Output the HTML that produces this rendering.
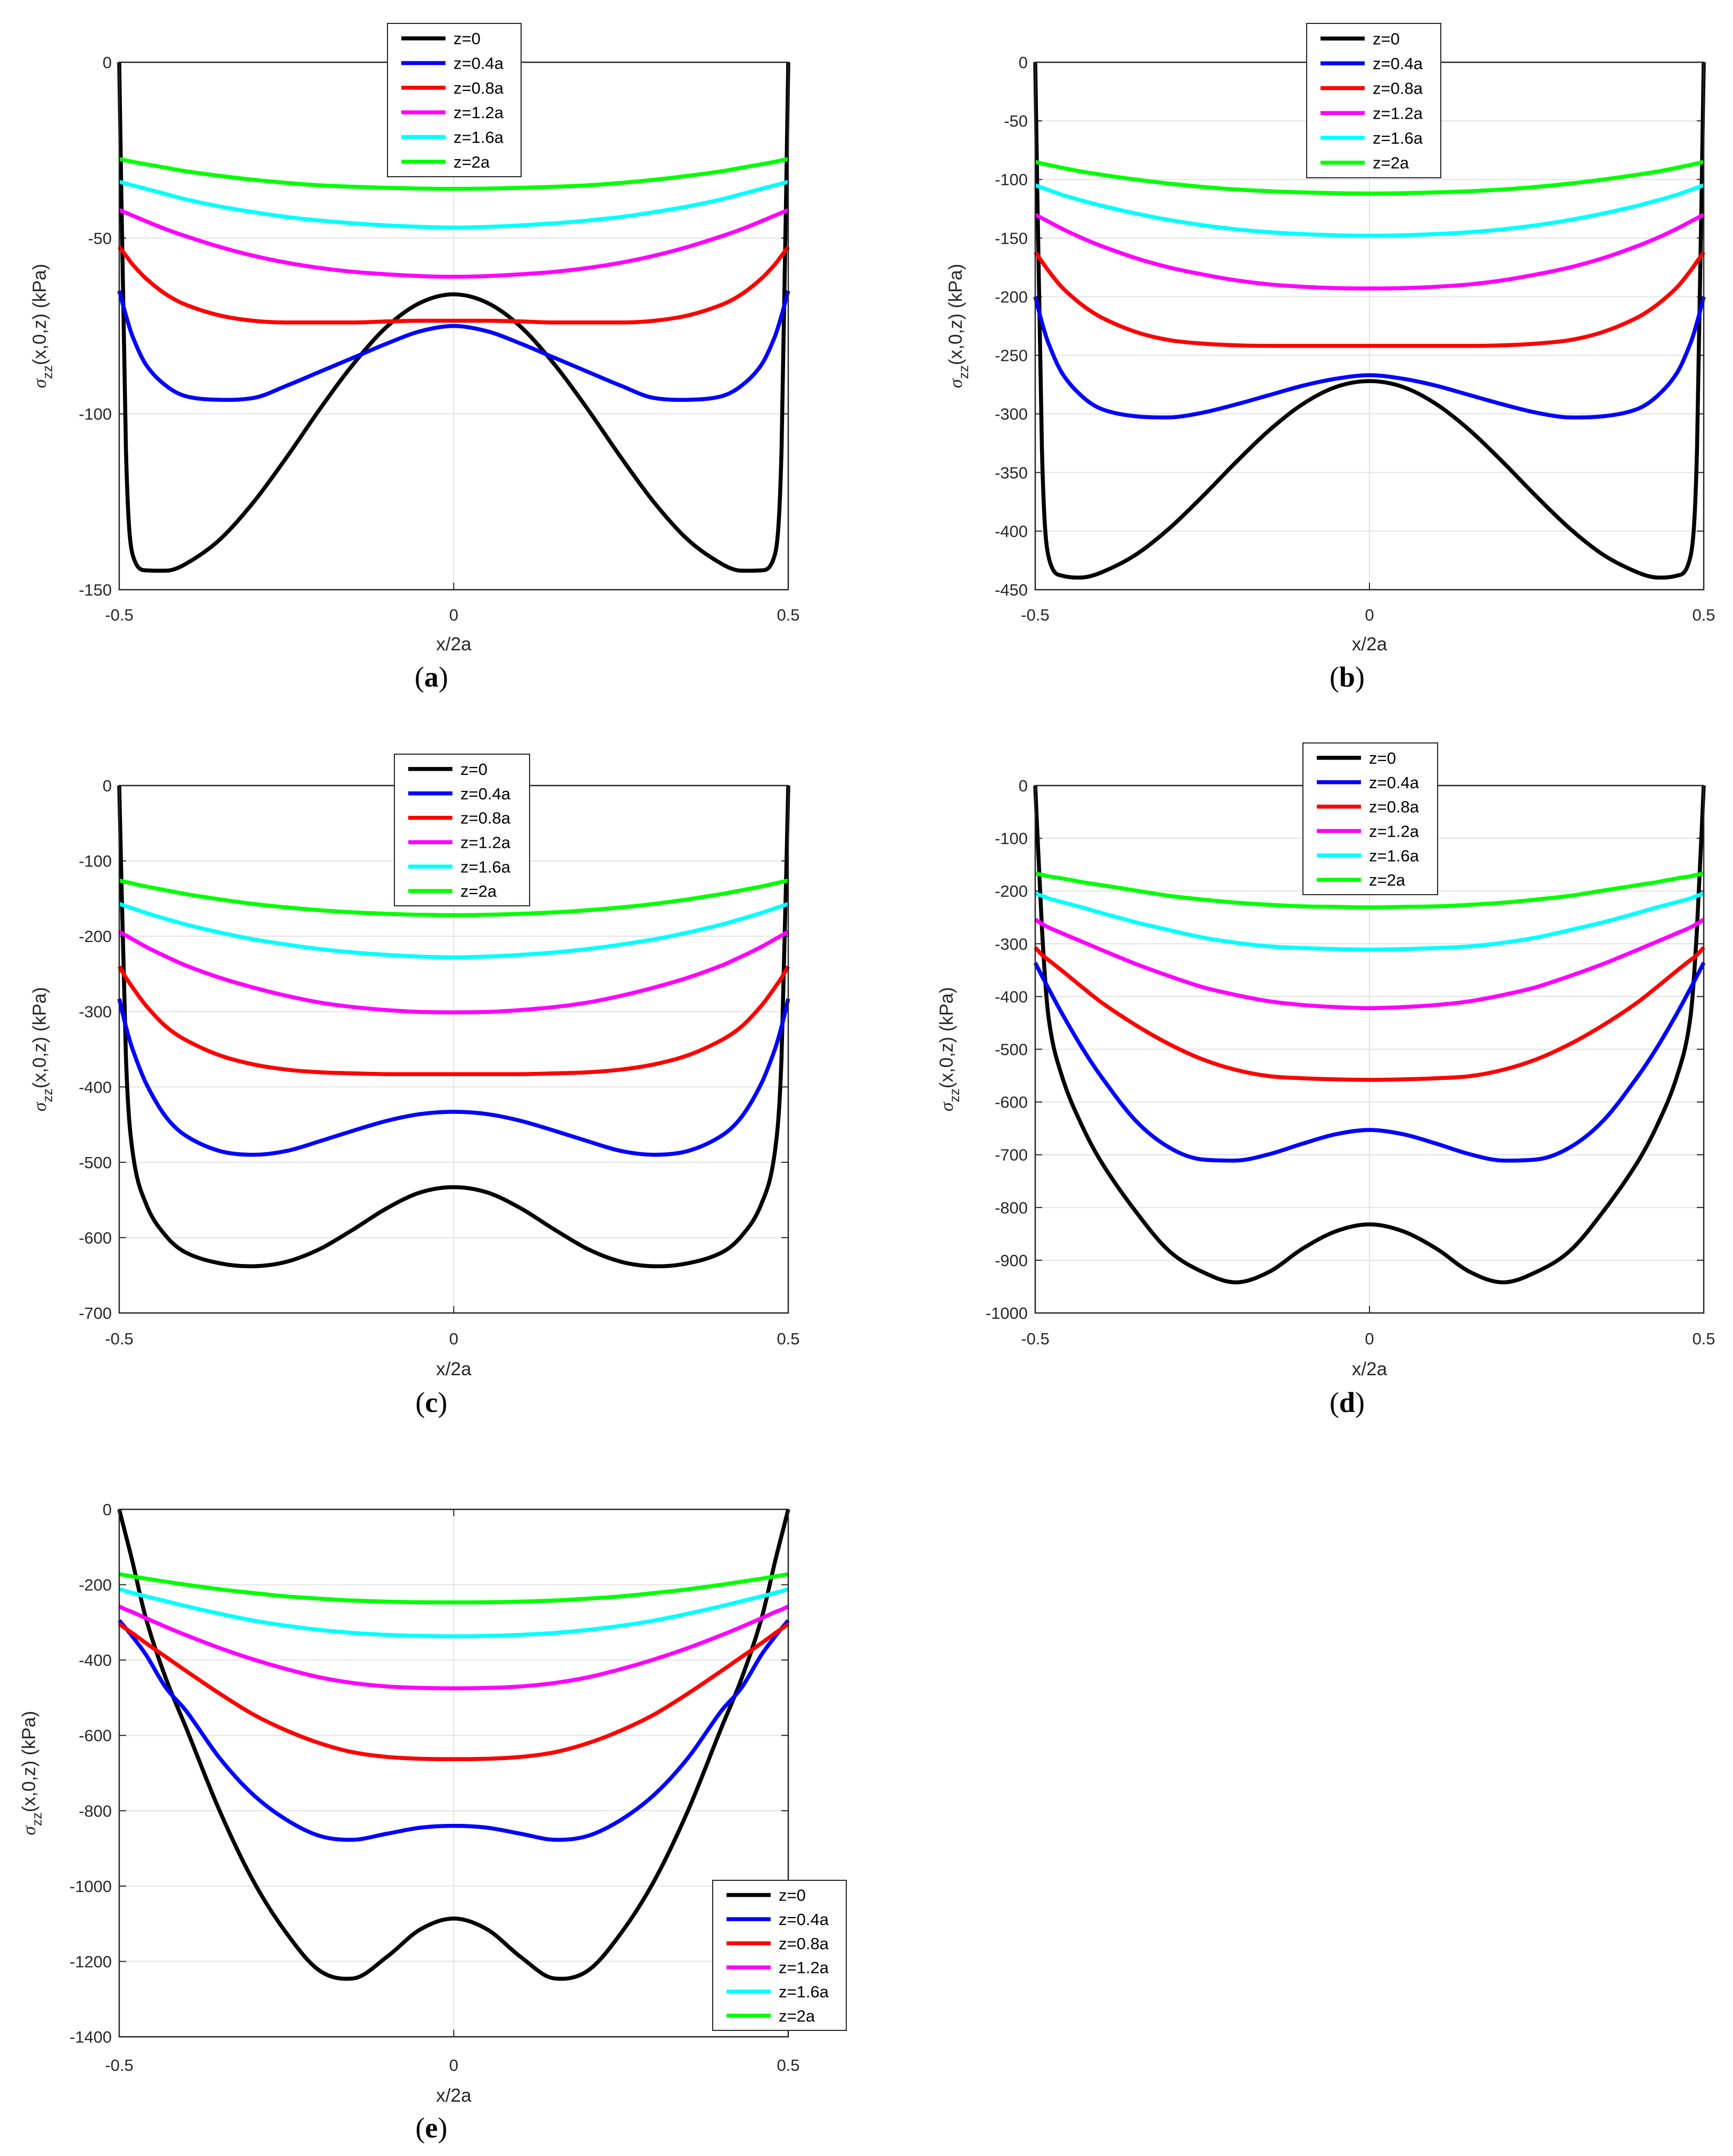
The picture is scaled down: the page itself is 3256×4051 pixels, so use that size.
<!DOCTYPE html>
<html><head><meta charset="utf-8"><style>
html,body{margin:0;padding:0;background:#fff;}
svg{display:block;font-family:"Liberation Sans",sans-serif;}
</style></head><body>
<svg id="fig" width="3256" height="4051" viewBox="0 0 3256 4051" xmlns="http://www.w3.org/2000/svg"></svg>
<script>
// ---- data ----
const xVals = [-0.5,-0.49,-0.48,-0.46,-0.43,-0.4,-0.35,-0.3,-0.25,-0.2,-0.15,-0.1,-0.05,0,0.05,0.1,0.15,0.2,0.25,0.3,0.35,0.4,0.43,0.46,0.48,0.49,0.5];
const seriesNames = ["z=0","z=0.4a","z=0.8a","z=1.2a","z=1.6a","z=2a"];
const seriesColors = ["#000000","#0000ff","#ff0000","#ff00ff","#00ffff","#00ff00"];
// panel (a)
const aZ0   = [0,-110,-140,-144.5,-144.6,-142.6,-135.8,-125.3,-112.4,-98.6,-85.8,-75.2,-68.4,-66,-68.4,-75.2,-85.8,-98.6,-112.4,-125.3,-135.8,-142.6,-144.6,-144.5,-140,-110,0];
const aZ04  = [-65,-72,-78,-86,-92,-95,-96,-95.5,-92,-88,-84,-80,-76.5,-75,-76.5,-80,-84,-88,-92,-95.5,-96,-95,-92,-86,-78,-72,-65];
const aZ08  = [-52.5,-55,-57.5,-61.5,-66,-69,-72,-73.5,-74,-74,-74,-73.7,-73.5,-73.5,-73.5,-73.7,-74,-74,-74,-73.5,-72,-69,-66,-61.5,-57.5,-55,-52.5];
const aZ12  = [-42,-42.8,-43.6,-45.2,-47.5,-49.5,-52.5,-55,-57,-58.5,-59.6,-60.3,-60.8,-61,-60.8,-60.3,-59.6,-58.5,-57,-55,-52.5,-49.5,-47.5,-45.2,-43.6,-42.8,-42];
const aZ16  = [-34,-34.5,-35,-36,-37.5,-39,-41,-42.6,-44,-45,-45.8,-46.4,-46.8,-47,-46.8,-46.4,-45.8,-45,-44,-42.6,-41,-39,-37.5,-36,-35,-34.5,-34];
const aZ20  = [-27.5,-27.9,-28.3,-29,-30,-31,-32.3,-33.4,-34.3,-35,-35.4,-35.7,-35.9,-36,-35.9,-35.7,-35.4,-35,-34.3,-33.4,-32.3,-31,-30,-29,-28.3,-27.9,-27.5];
// panel (b)
const bZ0   = [0,-330,-422,-438,-439.6,-435,-420.3,-398,-370.6,-341.4,-314,-291.7,-277,-272,-277,-291.7,-314,-341.4,-370.6,-398,-420.3,-435,-439.6,-438,-422,-330,0];
const bZ04  = [-200,-222,-240,-265,-285,-296,-302,-303,-299,-292,-284,-276,-270,-267,-270,-276,-284,-292,-299,-303,-302,-296,-285,-265,-240,-222,-200];
const bZ08  = [-162,-170,-178,-192,-207,-218,-230,-237,-240,-241.5,-242,-242,-242,-242,-242,-242,-242,-241.5,-240,-237,-230,-218,-207,-192,-178,-170,-162];
const bZ12  = [-130,-133,-136,-142,-150,-157,-167,-175,-181,-186,-189.5,-191.5,-192.7,-193,-192.7,-191.5,-189.5,-186,-181,-175,-167,-157,-150,-142,-136,-133,-130];
const bZ16  = [-105,-107,-109,-113,-118,-122.5,-129,-134.5,-139,-142.5,-145,-146.6,-147.6,-148,-147.6,-146.6,-145,-142.5,-139,-134.5,-129,-122.5,-118,-113,-109,-107,-105];
const bZ20  = [-85,-86.3,-87.6,-90,-93.3,-96,-100,-103.5,-106.3,-108.5,-110,-111,-111.7,-112,-111.7,-111,-110,-108.5,-106.3,-103.5,-100,-96,-93.3,-90,-87.6,-86.3,-85];
// panel (c)
const cZ0   = [0,-360,-486,-555,-598,-620,-634,-638,-632,-615,-589,-561,-540,-533,-540,-561,-589,-615,-632,-638,-634,-620,-598,-555,-486,-360,0];
const cZ04  = [-283,-320,-350,-395,-440,-465,-485,-490,-485,-472,-458,-445,-436,-433,-436,-445,-458,-472,-485,-490,-485,-465,-440,-395,-350,-320,-283];
const cZ08  = [-240,-255,-268,-292,-320,-338,-358,-370,-377,-380.5,-382,-383,-383,-383,-383,-383,-382,-380.5,-377,-370,-358,-338,-320,-292,-268,-255,-240];
const cZ12  = [-194,-199,-204,-214,-227,-239,-255,-268,-279,-288,-294,-298,-300.5,-301,-300.5,-298,-294,-288,-279,-268,-255,-239,-227,-214,-204,-199,-194];
const cZ16  = [-157,-160,-163,-169,-177,-184.5,-195,-204,-211,-217,-221.5,-224.7,-227,-228,-227,-224.7,-221.5,-217,-211,-204,-195,-184.5,-177,-169,-163,-160,-157];
const cZ20  = [-126,-128,-130,-134,-139,-144,-151,-157,-161.7,-165.5,-168.3,-170.2,-171.5,-172,-171.5,-170.2,-168.3,-165.5,-161.7,-157,-151,-144,-139,-134,-130,-128,-126];
// panel (d)
const dZ0   = [0,-270,-440,-551,-645,-716,-807,-882,-922,-942,-922,-878,-845,-832,-845,-878,-922,-942,-922,-882,-807,-716,-645,-551,-440,-270,0];
const dZ04  = [-336,-361,-385,-432,-497,-554,-635,-686,-709,-711,-699,-679,-661,-653,-661,-679,-699,-711,-709,-686,-635,-554,-497,-432,-385,-361,-336];
const dZ08  = [-307,-321,-331,-351,-382,-412,-454,-490,-519,-539,-551,-555,-557,-558,-557,-555,-551,-539,-519,-490,-454,-412,-382,-351,-331,-321,-307];
const dZ12  = [-254,-262,-269,-280,-296,-312,-338,-361,-382,-397,-409,-416,-420,-422,-420,-416,-409,-397,-382,-361,-338,-312,-296,-280,-269,-262,-254];
const dZ16  = [-205,-209,-214,-221,-231,-242,-259,-274,-288,-298,-305,-308,-310,-311,-310,-308,-305,-298,-288,-274,-259,-242,-231,-221,-214,-209,-205];
const dZ20  = [-167,-169,-172,-176,-183,-189,-199,-209,-216,-222,-226,-229,-230,-231,-230,-229,-226,-222,-216,-209,-199,-189,-183,-176,-172,-169,-167];
// panel (e)
const eZ0   = [0,-70,-140,-290,-450,-580,-800,-985,-1125,-1225,-1245,-1188,-1115,-1086,-1115,-1188,-1245,-1225,-1125,-985,-800,-580,-450,-290,-140,-70,0];
const eZ04  = [-295,-316,-338,-386,-474,-535,-660,-757,-824,-867,-877,-861,-845,-840,-845,-861,-877,-867,-824,-757,-660,-535,-474,-386,-338,-316,-295];
const eZ08  = [-304,-317,-329,-355,-392,-429,-489,-544,-587,-621,-645,-657,-662,-663,-662,-657,-645,-621,-587,-544,-489,-429,-392,-355,-329,-317,-304];
const eZ12  = [-258,-266,-273,-289,-312,-334,-368,-398,-424,-446,-461,-470,-474,-475,-474,-470,-461,-446,-424,-398,-368,-334,-312,-289,-273,-266,-258];
const eZ16  = [-212,-217,-222,-231,-244,-257,-277,-295,-309,-320,-328,-333,-336,-337,-336,-333,-328,-320,-309,-295,-277,-257,-244,-231,-222,-217,-212];
const eZ20  = [-172,-175,-178,-184,-192,-200,-212,-222,-231,-237,-242,-245,-246.5,-247,-246.5,-245,-242,-237,-231,-222,-212,-200,-192,-184,-178,-175,-172];
const xTickLabels = ["-0.5","0","0.5"];
const xTicks = [-0.5,0,0.5];
const aYTicks = [0,-50,-100,-150];
const bYTicks = [0,-50,-100,-150,-200,-250,-300,-350,-400,-450];
const cYTicks = [0,-100,-200,-300,-400,-500,-600,-700];
const dYTicks = [0,-100,-200,-300,-400,-500,-600,-700,-800,-900,-1000];
const eYTicks = [0,-200,-400,-600,-800,-1000,-1200,-1400];

// ---- layout ----
const panels = [
 {id:"a", x0:224,x1:1481,y0:117,y1:1108, ymin:-150, ticks:aYTicks, series:[aZ0,aZ04,aZ08,aZ12,aZ16,aZ20], leg:[728,44,979,332], lx:86, tickY:1155, xlabY:1210, letY:1272},
 {id:"b", x0:1945,x1:3201,y0:117,y1:1108, ymin:-450, ticks:bYTicks, series:[bZ0,bZ04,bZ08,bZ12,bZ16,bZ20], leg:[2455,44,2707,334], lx:1807, tickY:1155, xlabY:1210, letY:1272},
 {id:"c", x0:224,x1:1481,y0:1476,y1:2467, ymin:-700, ticks:cYTicks, series:[cZ0,cZ04,cZ08,cZ12,cZ16,cZ20], leg:[741,1417,995,1702], lx:86, tickY:2515, xlabY:2572, letY:2635},
 {id:"d", x0:1945,x1:3201,y0:1476,y1:2467, ymin:-1000, ticks:dYTicks, series:[dZ0,dZ04,dZ08,dZ12,dZ16,dZ20], leg:[2448,1396,2701,1681], lx:1790, tickY:2515, xlabY:2572, letY:2635},
 {id:"e", x0:224,x1:1481,y0:2836,y1:3827, ymin:-1400, ticks:eYTicks, series:[eZ0,eZ04,eZ08,eZ12,eZ16,eZ20], leg:[1339,3533,1590,3815], lx:66, tickY:3880, xlabY:3937, letY:3998}
];
const NS="http://www.w3.org/2000/svg";
const svg=document.getElementById("fig");
function mk(tag,attrs,parent){const e=document.createElementNS(NS,tag);for(const k in attrs)e.setAttribute(k,attrs[k]);(parent||svg).appendChild(e);return e;}

function smoothPath(px,py){
  const n=px.length,d=[],m=new Array(n);
  for(let i=0;i<n-1;i++)d.push((py[i+1]-py[i])/(px[i+1]-px[i]));
  m[0]=d[0];m[n-1]=d[n-2];
  for(let i=1;i<n-1;i++){
    let c=(py[i+1]-py[i-1])/(px[i+1]-px[i-1]);
    if(d[i-1]*d[i]>0){const lim=3*Math.min(Math.abs(d[i-1]),Math.abs(d[i]));if(Math.abs(c)>lim)c=Math.sign(c)*lim;}
    else {const lim=0.5*Math.min(Math.abs(d[i-1]),Math.abs(d[i]));if(Math.abs(c)>lim)c=Math.sign(c)*lim;}
    m[i]=c;
  }
  let s="M"+px[0].toFixed(1)+","+py[0].toFixed(1);
  for(let i=0;i<n-1;i++){const h=(px[i+1]-px[i])/3;
    s+=" C"+(px[i]+h).toFixed(1)+","+(py[i]+m[i]*h).toFixed(1)+" "+(px[i+1]-h).toFixed(1)+","+(py[i+1]-m[i+1]*h).toFixed(1)+" "+px[i+1].toFixed(1)+","+py[i+1].toFixed(1);}
  return s;
}

panels.forEach(p=>{
  const g=mk("g",{});
  
  
  const sx=v=>p.x0+(v+0.5)*(p.x1-p.x0);
  const sy=v=>p.y0+(v/p.ymin)*(p.y1-p.y0);
  p.ticks.forEach(t=>{
    if(t===0||t===p.ymin)return;
    const l=mk("line",{x1:p.x0,x2:p.x1,y1:sy(t),y2:sy(t),stroke:"#e3e3e3","stroke-width":2},g);
    
    
  });
  const vg=mk("line",{x1:sx(0),x2:sx(0),y1:p.y0,y2:p.y1,stroke:"#e3e3e3","stroke-width":2},g);
  
  
  p.ticks.forEach(t=>{
    mk("line",{x1:p.x0,x2:p.x0+13,y1:sy(t),y2:sy(t),stroke:"#262626","stroke-width":2},g);
    mk("line",{x1:p.x1,x2:p.x1-13,y1:sy(t),y2:sy(t),stroke:"#262626","stroke-width":2},g);
    const tl=mk("text",{x:p.x0-14,y:sy(t)+11,"text-anchor":"end","font-size":31,fill:"#262626"},g);
    tl.textContent=String(t);
    
    
  });
  xTicks.forEach((t,i)=>{
    mk("line",{x1:sx(t),x2:sx(t),y1:p.y1,y2:p.y1-13,stroke:"#262626","stroke-width":2},g);
    mk("line",{x1:sx(t),x2:sx(t),y1:p.y0,y2:p.y0+13,stroke:"#262626","stroke-width":2},g);
    const tl=mk("text",{x:sx(t),y:p.tickY+11,"text-anchor":"middle","font-size":31,fill:"#262626"},g);
    tl.textContent=xTickLabels[i];
    
    
  });
  p.series.forEach((vals,si)=>{
    const px=xVals.map(sx),py=vals.map(sy);
    const path=mk("path",{d:smoothPath(px,py),fill:"none",stroke:seriesColors[si],"stroke-width":7.5,"stroke-linejoin":"round"},g);
    
    
  });
  const box=mk("rect",{x:p.x0,y:p.y0,width:p.x1-p.x0,height:p.y1-p.y0,fill:"none",stroke:"#262626","stroke-width":2.5},g);
  
  
  const xl=mk("text",{x:(p.x0+p.x1)/2,y:p.xlabY+12,"text-anchor":"middle","font-size":35,fill:"#262626"},g);
  xl.textContent="x/2a";
  
  
  const cy=(p.y0+p.y1)/2;
  const yl=mk("text",{x:p.lx,y:cy,"text-anchor":"middle","font-size":35,fill:"#262626",transform:"rotate(-90 "+p.lx+" "+cy+")"},g);
  
  
  const s1=mk("tspan",{"font-family":"Liberation Serif, serif","font-style":"italic"},yl);s1.textContent="σ";
  const s2=mk("tspan",{"font-size":26,dy:12},yl);s2.textContent="zz";
  const s3=mk("tspan",{dy:-12},yl);s3.textContent="(x,0,z) (kPa)";
  const lt=mk("text",{x:(p.x0+p.x1)/2-42,y:p.letY+18,"text-anchor":"middle","font-size":54,fill:"#000","font-family":"Liberation Serif, serif"},g);
  
  
  const l1=mk("tspan",{},lt);l1.textContent="(";
  const l2=mk("tspan",{"font-weight":"bold"},lt);l2.textContent=p.id;
  const l3=mk("tspan",{},lt);l3.textContent=")";
  const [L,T,R,B]=p.leg;
  const lg=mk("g",{},g);
  
  
  mk("rect",{x:L,y:T,width:R-L,height:B-T,fill:"#fff",stroke:"#262626","stroke-width":2},lg);
  const step=(B-T-10)/6;
  seriesNames.forEach((nm,i)=>{
    const yy=T+5+step*(i+0.5);
    const e=mk("g",{},lg);
    
    
    mk("line",{x1:L+26,x2:L+109,y1:yy,y2:yy,stroke:seriesColors[i],"stroke-width":7.5},e);
    const t=mk("text",{x:L+124,y:yy+11,"font-size":31,fill:"#000"},e);
    t.textContent=nm;
  });
});
</script>
</body></html>
